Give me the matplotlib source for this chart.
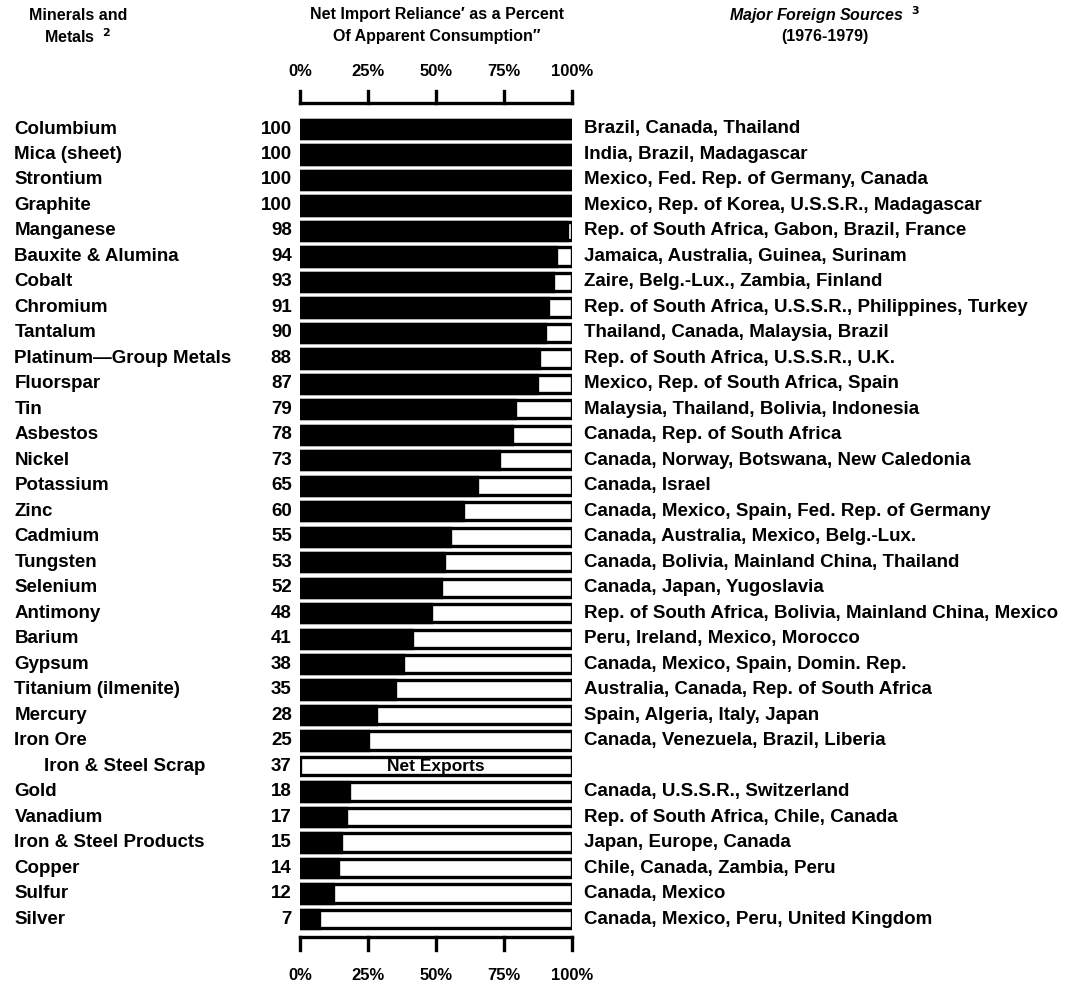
import matplotlib.pyplot as plt

plt.rcParams['font.family'] = ['Liberation Sans', 'DejaVu Sans']

minerals = ["Columbium", "Mica (sheet)", "Strontium", "Graphite", "Manganese",
            "Bauxite & Alumina", "Cobalt", "Chromium", "Tantalum",
            "Platinum\u2014Group Metals", "Fluorspar", "Tin", "Asbestos", "Nickel",
            "Potassium", "Zinc", "Cadmium", "Tungsten", "Selenium", "Antimony",
            "Barium", "Gypsum", "Titanium (ilmenite)", "Mercury", "Iron Ore",
            "Iron & Steel Scrap", "Gold", "Vanadium", "Iron & Steel Products",
            "Copper", "Sulfur", "Silver"]
reliance = [100, 100, 100, 100, 98, 94, 93, 91, 90, 88, 87, 79, 78, 73, 65, 60,
            55, 53, 52, 48, 41, 38, 35, 28, 25, 37, 18, 17, 15, 14, 12, 7]
# rows where the figure is net exports, not imports
net_exports = ["Iron & Steel Scrap"]
sources = ["Brazil, Canada, Thailand",
           "India, Brazil, Madagascar",
           "Mexico, Fed. Rep. of Germany, Canada",
           "Mexico, Rep. of Korea, U.S.S.R., Madagascar",
           "Rep. of South Africa, Gabon, Brazil, France",
           "Jamaica, Australia, Guinea, Surinam",
           "Zaire, Belg.-Lux., Zambia, Finland",
           "Rep. of South Africa, U.S.S.R., Philippines, Turkey",
           "Thailand, Canada, Malaysia, Brazil",
           "Rep. of South Africa, U.S.S.R., U.K.",
           "Mexico, Rep. of South Africa, Spain",
           "Malaysia, Thailand, Bolivia, Indonesia",
           "Canada, Rep. of South Africa",
           "Canada, Norway, Botswana, New Caledonia",
           "Canada, Israel",
           "Canada, Mexico, Spain, Fed. Rep. of Germany",
           "Canada, Australia, Mexico, Belg.-Lux.",
           "Canada, Bolivia, Mainland China, Thailand",
           "Canada, Japan, Yugoslavia",
           "Rep. of South Africa, Bolivia, Mainland China, Mexico",
           "Peru, Ireland, Mexico, Morocco",
           "Canada, Mexico, Spain, Domin. Rep.",
           "Australia, Canada, Rep. of South Africa",
           "Spain, Algeria, Italy, Japan",
           "Canada, Venezuela, Brazil, Liberia",
           "",
           "Canada, U.S.S.R., Switzerland",
           "Rep. of South Africa, Chile, Canada",
           "Japan, Europe, Canada",
           "Chile, Canada, Zambia, Peru",
           "Canada, Mexico",
           "Canada, Mexico, Peru, United Kingdom"]
pct_ticks = [0, 25, 50, 75, 100]
pct_labels = ["0%", "25%", "50%", "75%", "100%"]

W, H = 1066, 984
fig = plt.figure(figsize=(W / 100, H / 100), dpi=100)
# axes spans the bar column; y in row units (row 0 at 129px, pitch 25.48px)
pitch = (919 - 129) / 31
top_y = -129 / pitch
bot_y = (H - 129) / pitch
ax = fig.add_axes([300 / W, 0, 272 / W, 1])
ax.set_xlim(0, 100)
ax.set_ylim(bot_y, top_y)
ax.axis('off')

fs = 13.5
for i, (name, val, src) in enumerate(zip(minerals, reliance, sources)):
    ax.barh(i, 100, height=0.72, color='white', edgecolor='black', linewidth=2.4, zorder=2)
    if name in net_exports:
        ax.text(50, i, "Net Exports", ha='center', va='center', fontsize=fs - 1,
                fontweight='bold', zorder=3)
    else:
        ax.barh(i, val, height=0.72, color='black', edgecolor='black', linewidth=2.4, zorder=3)
    x0 = -105 + (10.8 if name in net_exports else 0)
    ax.text(x0, i, name, ha='left', va='center', fontsize=fs, fontweight='bold', clip_on=False)
    ax.text(-3, i, str(val), ha='right', va='center', fontsize=fs, fontweight='bold', clip_on=False)
    ax.text(104.5, i, src, ha='left', va='center', fontsize=fs, fontweight='bold', clip_on=False)

# percent brackets above and below the bars
def bracket(y_line, y_tip, y_text):
    ax.plot([0, 100], [y_line, y_line], color='black', lw=2.4, clip_on=False)
    for t, lab in zip(pct_ticks, pct_labels):
        ax.plot([t, t], [y_line, y_tip], color='black', lw=2.4, clip_on=False)
        ax.text(t, y_text, lab, ha='center', va='center', fontsize=12, fontweight='bold', clip_on=False)

bracket((103 - 129) / pitch, (91 - 129) / pitch, (72 - 129) / pitch)
bracket((937 - 129) / pitch, (950 - 129) / pitch, (976 - 129) / pitch)

hfs = 11.5
fig.text(78 / W, 1 - 15 / H, "Minerals and", ha='center', va='center', fontsize=hfs, fontweight='bold')
fig.text(78 / W, 1 - 37 / H, "Metals  $^{\\mathbf{2}}$", ha='center', va='center', fontsize=hfs, fontweight='bold')
fig.text(437 / W, 1 - 15 / H, "Net Import Reliance\u2032 as a Percent", ha='center', va='center',
         fontsize=hfs, fontweight='bold')
fig.text(437 / W, 1 - 37 / H, "Of Apparent Consumption\u2033", ha='center', va='center',
         fontsize=hfs, fontweight='bold')
fig.text(825 / W, 1 - 15 / H, "Major Foreign Sources  $^{\\mathbf{3}}$", ha='center', va='center',
         fontsize=hfs, fontweight='bold', style='italic')
fig.text(825 / W, 1 - 37 / H, "(1976-1979)", ha='center', va='center', fontsize=hfs, fontweight='bold')

fig.savefig("out.png", dpi=100, facecolor='white')
